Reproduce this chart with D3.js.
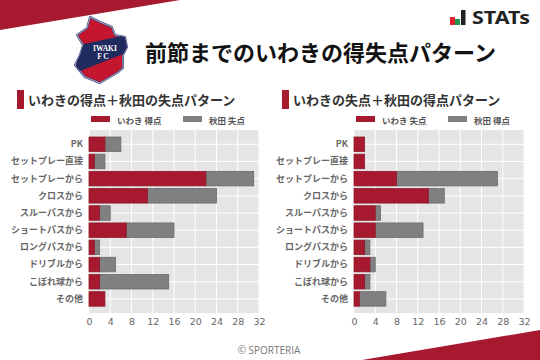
<!DOCTYPE html>
<html>
<head>
<meta charset="utf-8">
<script src="https://cdn.jsdelivr.net/npm/d3@7"></script>
<style>
html, body { margin: 0; padding: 0; background: #fff; }
svg { display: block; }
text { font-family: "Noto Sans CJK JP", "Noto Sans", sans-serif; }
</style>
</head>
<body>
<script>
const categories = ["PK", "セットプレー直接", "セットプレーから", "クロスから", "スルーパスから",
    "ショートパスから", "ロングパスから", "ドリブルから", "こぼれ球から", "その他"];
const tickValues = [0, 4, 8, 12, 16, 20, 24, 28, 32];

const iwakiScored = [3, 1, 22, 11, 2, 7, 1, 2, 2, 3];
const akitaConceded = [3, 2, 9, 13, 2, 9, 1, 3, 13, 0];
const iwakiConceded = [2, 2, 8, 14, 4, 4, 2, 3, 2, 1];
const akitaScored = [0, 0, 19, 3, 1, 9, 1, 1, 1, 5];

const title = "前節までのいわきの得失点パターン";
const panelTitles = ["いわきの得点＋秋田の失点パターン", "いわきの失点＋秋田の得点パターン"];
const legendLabels = [["いわき 得点", "秋田 失点"], ["いわき 失点", "秋田 得点"]];

const red = "#a6192e";
const grey = "#7f7f7f";

const svg = d3.select("body")
    .append("svg")
    .attr("width", 540)
    .attr("height", 360);

svg.append("rect").attr("width", 540).attr("height", 360).attr("fill", "#fff");

// corner wedges
svg.append("path").attr("d", "M0,0L180,0L0,30Z").attr("fill", red);
svg.append("path").attr("d", "M540,330L540,360L362,360Z").attr("fill", red);

// club badge
const badge = svg.append("g");
const badgeOutline = "M90,17L100,22L112,27L115,35L125,37L127,47L123,55L123,68L117,73L100,83L85,77L75,65L80,55L83,45L77,35L87,28Z";
badge.append("clipPath").attr("id", "badge-clip").append("path").attr("d", badgeOutline);
badge.append("path").attr("d", badgeOutline).attr("fill", "#c4172f").attr("stroke", "#39407a")
    .attr("stroke-width", 2).attr("stroke-linejoin", "round");
badge.append("path").attr("d", badgeOutline).attr("fill", "none").attr("stroke", "#d8d8e2")
    .attr("stroke-width", 0.7).attr("stroke-linejoin", "round");
badge.append("path").attr("d", "M126,35L128,52L75,73L78,55L84,44Z").attr("fill", "#1f2a5e")
    .attr("clip-path", "url(#badge-clip)");
badge.append("text").attr("x", 105).attr("y", 51).attr("text-anchor", "middle")
    .attr("font-size", 7.5).attr("font-weight", 700).attr("fill", "#fff")
    .style("font-family", "'Liberation Serif', serif").text("IWAKI");
badge.append("text").attr("x", 103).attr("y", 58.5).attr("text-anchor", "middle")
    .attr("font-size", 7.5).attr("font-weight", 700).attr("fill", "#fff")
    .style("font-family", "'Liberation Serif', serif").text("F C");

// STATs logo
const logo = svg.append("g");
logo.append("rect").attr("x", 450).attr("y", 17).attr("width", 5).attr("height", 8).attr("fill", "#e0202c");
logo.append("rect").attr("x", 455).attr("y", 19).attr("width", 5).attr("height", 6).attr("fill", "#1d9a50");
logo.append("rect").attr("x", 461).attr("y", 10).attr("width", 4.5).attr("height", 15).attr("fill", "#222");
logo.append("text").attr("x", 472).attr("y", 24).attr("font-size", 18).attr("font-weight", 700)
    .attr("textLength", 58).attr("lengthAdjust", "spacingAndGlyphs")
    .attr("fill", "#222").style("font-family", "'Noto Sans', sans-serif").text("STATs");

svg.append("text").attr("x", 145).attr("y", 60.5)
    .attr("font-size", 22).attr("font-weight", 700).attr("fill", "#111").text(title);

svg.append("text").attr("x", 269).attr("y", 354).attr("text-anchor", "middle")
    .attr("font-size", 10).attr("fill", "#777")
    .style("font-family", "'Open Sans', sans-serif").text("© SPORTERIA");

function drawPanel(i, originX, first, second) {
    const x = d3.scaleLinear().domain([0, 32]).range([originX, originX + 170]);
    const y = d3.scaleBand().domain(categories).range([137, 306.2]).paddingInner(0.155).paddingOuter(0);
    const g = svg.append("g").attr("class", "panel-" + i);

    g.append("rect").attr("x", x(0)).attr("y", 130).attr("width", 170).attr("height", 183).attr("fill", "#e5e5e5");

    // heading
    g.append("rect").attr("x", originX - 72).attr("y", 90).attr("width", 7).attr("height", 19).attr("fill", red);
    g.append("text").attr("x", originX - 61).attr("y", 104.5)
        .attr("font-size", 13).attr("font-weight", 700).attr("fill", "#333").text(panelTitles[i]);

    // legend
    const legend = [[originX + 2, red, 0], [originX + 94, grey, 1]];
    legend.forEach(function (d) {
        g.append("rect").attr("x", d[0]).attr("y", 116).attr("width", 19).attr("height", 6).attr("fill", d[1]);
        g.append("text").attr("x", d[0] + 26).attr("y", 123.5)
            .attr("font-size", 8.5).attr("font-weight", 700).attr("fill", "#555").text(legendLabels[i][d[2]]);
    });

    // grid
    g.selectAll("line.vgrid").data(tickValues).enter().append("line")
        .attr("class", "vgrid")
        .attr("x1", function (d) { return x(d); }).attr("x2", function (d) { return x(d); })
        .attr("y1", 130).attr("y2", 313)
        .attr("stroke", "#fff").attr("stroke-width", 1);
    g.selectAll("line.hgrid").data(categories).enter().append("line")
        .attr("class", "hgrid")
        .attr("x1", x(0)).attr("x2", x(32))
        .attr("y1", function (d) { return y(d) + y.bandwidth() / 2; })
        .attr("y2", function (d) { return y(d) + y.bandwidth() / 2; })
        .attr("stroke", "#fff").attr("stroke-width", 1);

    // bars, second series stacked after the first
    g.selectAll("rect.second").data(categories).enter().append("rect")
        .attr("class", "second")
        .attr("x", function (d, k) { return x(first[k]); })
        .attr("y", function (d) { return y(d); })
        .attr("width", function (d, k) { return x(first[k] + second[k]) - x(first[k]); })
        .attr("height", y.bandwidth())
        .attr("fill", "#808080").attr("stroke", "#6b6b6b").attr("stroke-width", 0.8);
    g.selectAll("rect.first").data(categories).enter().append("rect")
        .attr("class", "first")
        .attr("x", x(0))
        .attr("y", function (d) { return y(d); })
        .attr("width", function (d, k) { return x(first[k]) - x(0); })
        .attr("height", y.bandwidth())
        .attr("fill", red).attr("stroke", "#8f1a2c").attr("stroke-width", 0.8);

    // axes
    const xAxis = g.append("g").attr("transform", "translate(0,313)")
        .call(d3.axisBottom(x).tickValues(tickValues).tickSize(0).tickPadding(5));
    xAxis.select(".domain").remove();
    xAxis.selectAll("text").attr("font-size", 9.5).attr("fill", "#666")
        .style("font-family", "'DejaVu Sans', sans-serif");

    const yAxis = g.append("g").attr("transform", "translate(" + (originX - 6) + ",0)")
        .call(d3.axisLeft(y).tickSize(0).tickPadding(0));
    yAxis.select(".domain").remove();
    yAxis.selectAll("text").attr("font-size", 9).attr("font-weight", 700).attr("fill", "#666");
}

drawPanel(0, 89, iwakiScored, akitaConceded);
drawPanel(1, 354, iwakiConceded, akitaScored);
</script>
</body>
</html>
